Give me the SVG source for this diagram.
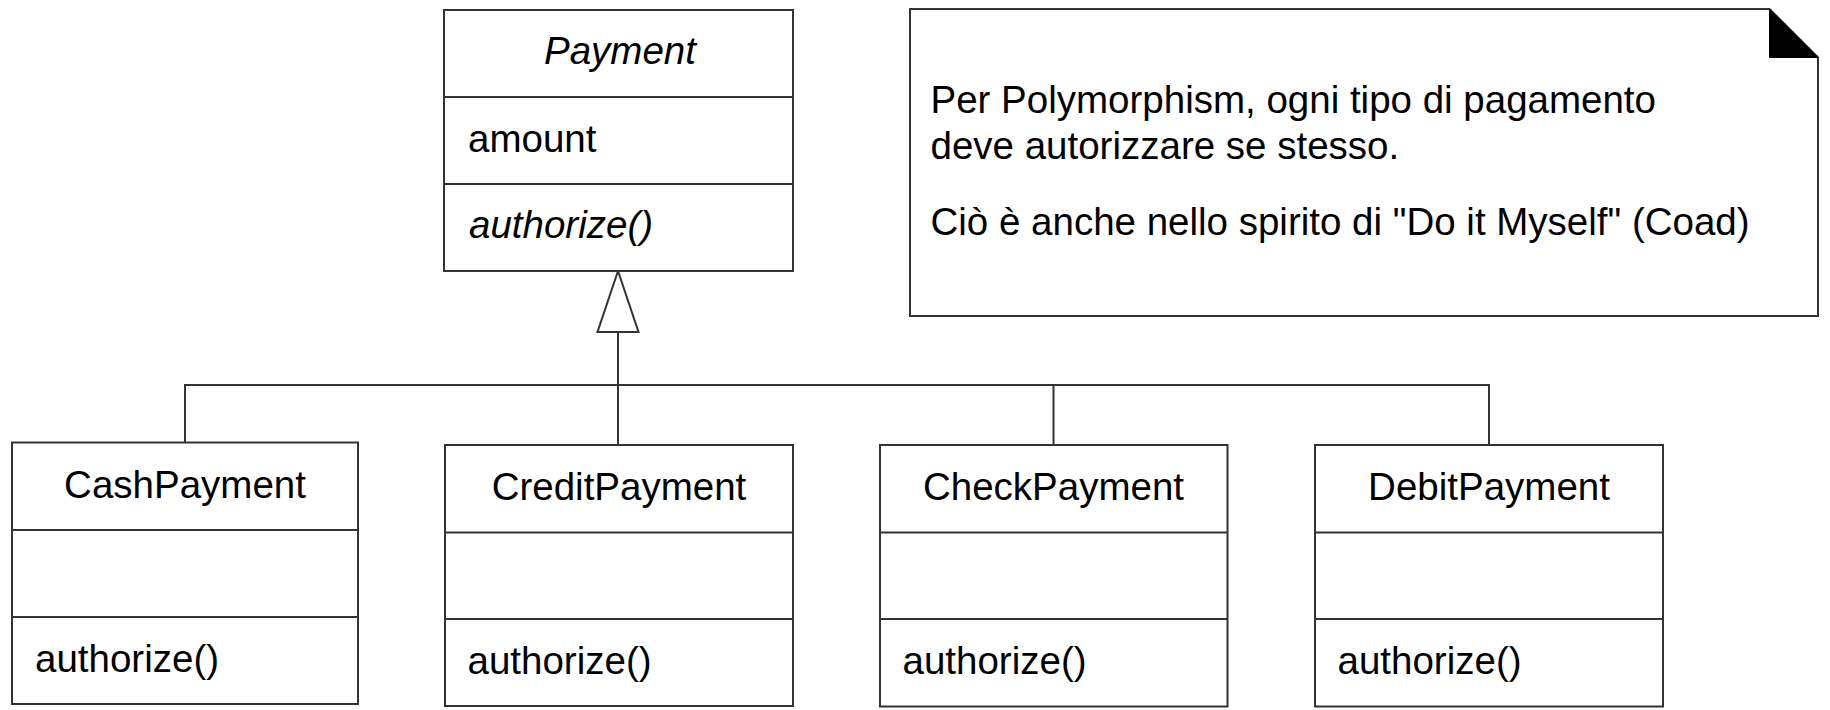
<svg xmlns="http://www.w3.org/2000/svg" width="1830" height="710" viewBox="0 0 1830 710">
<style>
.box{fill:#fff;stroke:#333;stroke-width:2}
.ln{stroke:#333;stroke-width:2;fill:none}
.t{font-family:"Liberation Sans",Arial,sans-serif;font-size:38.5px;fill:#000}
.c{text-anchor:middle}
.i{font-style:italic}
</style>
<rect width="1830" height="710" fill="#fff"/>
<g id="connectors">
<polyline class="ln" points="185,442 185,385 1489,385 1489,445"/>
<line class="ln" x1="618" y1="332" x2="618" y2="445"/>
<line class="ln" x1="1053.5" y1="385" x2="1053.5" y2="445"/>
<polygon points="618,271 597.5,332 638.5,332" fill="#fff" stroke="#333" stroke-width="2"/>
</g>
<g id="Payment">
<rect class="box" x="444" y="10" width="349" height="261"/>
<line class="ln" x1="444" y1="97" x2="793" y2="97"/>
<line class="ln" x1="444" y1="184" x2="793" y2="184"/>
<text class="t c i" x="620" y="64">Payment</text>
<text class="t" x="468" y="151.5">amount</text>
<text class="t i" x="469" y="238">authorize()</text>
</g>
<g id="note">
<path class="box" d="M910,9 H1769.5 L1818,57.5 V316 H910 Z"/>
<polygon points="1769.5,9 1769.5,57.5 1818,57.5" fill="#000" stroke="#000" stroke-width="1"/>
<text class="t" x="930.5" y="113">Per Polymorphism, ogni tipo di pagamento</text>
<text class="t" x="930.5" y="159">deve autorizzare se stesso.</text>
<text class="t" x="930.5" y="235">Ciò è anche nello spirito di "Do it Myself" (Coad)</text>
</g>
<g id="CashPayment">
<rect class="box" x="12" y="442.5" width="346" height="261.5"/>
<line class="ln" x1="12" y1="530" x2="358" y2="530"/>
<line class="ln" x1="12" y1="617" x2="358" y2="617"/>
<text class="t c" x="185" y="497.5">CashPayment</text>
<text class="t" x="35" y="671.5">authorize()</text>
</g>
<g id="CreditPayment">
<rect class="box" x="445" y="445" width="348" height="261"/>
<line class="ln" x1="445" y1="532.5" x2="793" y2="532.5"/>
<line class="ln" x1="445" y1="619" x2="793" y2="619"/>
<text class="t c" x="619" y="499.5">CreditPayment</text>
<text class="t" x="467.5" y="674">authorize()</text>
</g>
<g id="CheckPayment">
<rect class="box" x="880" y="445" width="347.5" height="261.5"/>
<line class="ln" x1="880" y1="532.5" x2="1227.5" y2="532.5"/>
<line class="ln" x1="880" y1="619" x2="1227.5" y2="619"/>
<text class="t c" x="1053.5" y="499.5">CheckPayment</text>
<text class="t" x="902.5" y="674">authorize()</text>
</g>
<g id="DebitPayment">
<rect class="box" x="1315" y="445" width="348" height="261.5"/>
<line class="ln" x1="1315" y1="532.5" x2="1663" y2="532.5"/>
<line class="ln" x1="1315" y1="619" x2="1663" y2="619"/>
<text class="t c" x="1489" y="499.5">DebitPayment</text>
<text class="t" x="1337.5" y="674">authorize()</text>
</g>
</svg>
